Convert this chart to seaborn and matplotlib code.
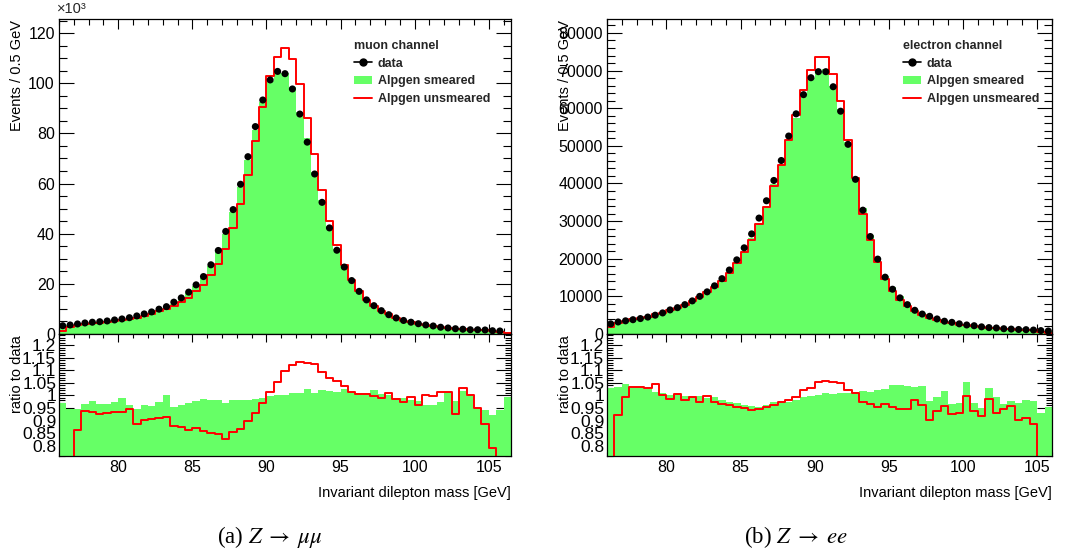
import numpy as np
import matplotlib
matplotlib.use('Agg')
import matplotlib.pyplot as plt
import seaborn as sns
from matplotlib.lines import Line2D
from matplotlib.patches import Patch
from matplotlib.ticker import MultipleLocator, FuncFormatter

sns.set_theme(style='ticks')
plt.rcParams['font.family'] = ['Liberation Sans', 'DejaVu Sans']
plt.rcParams['mathtext.fontset'] = 'stix'

# ---- muon channel (events in thousands per 0.5 GeV, 76 - 106.5 GeV) ----
mu_data = [3.3, 3.6, 4.0, 4.4, 4.7, 4.9, 5.2, 5.6, 6.0, 6.5,
           7.2, 8.0, 8.8, 9.9, 10.9, 12.7, 14.4, 16.7, 19.6, 22.9,
           27.6, 33.3, 40.9, 49.6, 59.7, 70.7, 82.7, 93.3, 101.3, 104.7,
           103.8, 97.7, 87.7, 76.5, 63.8, 52.5, 42.3, 33.4, 26.7, 21.3,
           17.0, 13.6, 11.3, 9.3, 7.7, 6.4, 5.4, 4.7, 4.1, 3.6,
           3.2, 2.7, 2.4, 2.1, 1.9, 1.7, 1.7, 1.6, 1.3, 1.2]
mu_smeared = [3.2, 3.4, 3.8, 4.25, 4.6, 4.7, 5.0, 5.45, 5.95, 6.25,
              6.8, 7.7, 8.4, 9.6, 10.9, 12.1, 13.9, 16.2, 19.1, 22.5,
              27.1, 32.7, 39.7, 48.6, 58.5, 69.5, 81.5, 92.5, 101.0, 104.7,
              104.1, 98.5, 88.4, 78.3, 64.5, 53.6, 43.0, 33.9, 27.3, 21.6,
              17.2, 13.7, 11.5, 9.35, 7.7, 6.35, 5.3, 4.6, 4.0, 3.45,
              3.1, 2.6, 2.45, 2.05, 1.95, 1.7, 1.6, 1.5, 1.2, 1.1, 0.9]
mu_unsmeared = [1.3, 2.7, 3.4, 4.1, 4.4, 4.5, 4.8, 5.2, 5.6, 6.1,
                6.4, 7.2, 8.0, 9.0, 10.0, 11.2, 12.6, 14.4, 17.1, 19.7,
                23.4, 28.1, 33.9, 42.3, 51.7, 63.5, 77.0, 90.6, 102.8, 110.4,
                113.9, 109.5, 99.5, 86.2, 71.6, 57.3, 45.2, 35.3, 27.7, 21.6,
                17.1, 13.7, 11.3, 9.2, 7.8, 6.3, 5.3, 4.7, 3.9, 3.6,
                3.2, 2.7, 2.4, 1.9, 2.0, 1.7, 1.6, 1.4, 1.0, 0.8, 0.5]
mu_ratio_smeared = [0.968, 0.946, 0.946, 0.966, 0.977, 0.966, 0.964, 0.974, 0.991, 0.962,
                    0.946, 0.960, 0.958, 0.974, 1.001, 0.952, 0.962, 0.971, 0.977, 0.984,
                    0.981, 0.983, 0.970, 0.980, 0.980, 0.983, 0.985, 0.991, 0.997, 1.000,
                    1.003, 1.008, 1.008, 1.024, 1.011, 1.021, 1.017, 1.015, 1.024, 1.015,
                    1.011, 1.008, 1.020, 1.005, 1.000, 0.991, 0.988, 0.983, 0.979, 0.962,
                    0.962, 0.975, 1.015, 0.976, 1.017, 1.003, 0.948, 0.942, 0.922, 0.942, 0.995]
mu_ratio_unsmeared = [0.40, 0.70, 0.862, 0.939, 0.935, 0.926, 0.928, 0.932, 0.934, 0.944,
                      0.885, 0.902, 0.906, 0.910, 0.915, 0.879, 0.875, 0.864, 0.870, 0.860,
                      0.849, 0.845, 0.828, 0.853, 0.866, 0.898, 0.931, 0.971, 1.015, 1.054,
                      1.097, 1.121, 1.134, 1.127, 1.123, 1.091, 1.068, 1.057, 1.038, 1.013,
                      1.005, 1.005, 0.997, 0.991, 1.008, 0.986, 0.975, 0.993, 0.962, 1.001,
                      0.997, 1.012, 1.013, 0.925, 1.030, 1.001, 0.948, 0.885, 0.789, 0.70, 0.40]

# ---- electron channel (events in thousands per 0.5 GeV, 76 - 106 GeV) ----
el_data = [2.7, 3.2, 3.5, 3.8, 4.1, 4.5, 5.0, 5.6, 6.4, 7.0,
           7.8, 8.8, 10.0, 11.2, 12.8, 14.7, 17.0, 19.7, 22.9, 26.6,
           30.8, 35.4, 40.8, 46.1, 52.6, 58.5, 63.6, 68.1, 69.7, 69.7,
           65.7, 59.2, 50.4, 41.1, 32.9, 25.9, 19.9, 15.1, 11.9, 9.6,
           7.8, 6.3, 5.3, 4.7, 4.0, 3.4, 3.1, 2.7, 2.4, 2.2,
           1.9, 1.7, 1.6, 1.4, 1.3, 1.2, 1.15, 1.05, 0.9, 0.8]
el_smeared = [2.8, 3.3, 3.65, 3.9, 4.2, 4.6, 5.05, 5.65, 6.4, 7.0,
              7.8, 8.75, 10.0, 11.1, 12.7, 14.4, 16.5, 19.1, 22.0, 25.5,
              29.4, 34.1, 39.8, 44.6, 51.3, 57.4, 63.3, 68.0, 69.9, 70.3,
              66.0, 59.7, 51.0, 41.7, 33.5, 26.3, 20.3, 15.5, 12.4, 10.0,
              8.1, 6.5, 5.5, 4.6, 4.0, 3.45, 3.0, 2.6, 2.5, 2.1,
              1.8, 1.75, 1.6, 1.35, 1.27, 1.17, 1.13, 1.03, 0.84, 0.76]
el_unsmeared = [1.8, 2.95, 3.5, 3.9, 4.25, 4.6, 5.2, 5.6, 6.3, 7.0,
                7.65, 8.75, 9.7, 11.2, 12.4, 14.2, 16.3, 18.8, 21.8, 25.0,
                29.2, 33.8, 39.2, 44.9, 51.6, 58.2, 64.9, 70.1, 73.5, 73.7,
                69.2, 62.0, 51.5, 41.4, 32.0, 25.0, 19.0, 14.6, 11.4, 9.1,
                7.4, 6.2, 5.1, 4.25, 3.75, 3.25, 2.85, 2.5, 2.4, 2.05,
                1.75, 1.65, 1.5, 1.3, 1.25, 1.1, 1.05, 0.93, 0.5, 0.3]
el_ratio_smeared = [1.028, 1.034, 1.044, 1.034, 1.032, 1.024, 1.013, 1.008, 1.001, 1.005,
                    0.997, 0.995, 0.997, 0.991, 0.995, 0.981, 0.972, 0.968, 0.962, 0.958,
                    0.955, 0.962, 0.975, 0.968, 0.975, 0.981, 0.995, 0.999, 1.003, 1.008,
                    1.004, 1.008, 1.011, 1.015, 1.019, 1.015, 1.021, 1.026, 1.041, 1.042,
                    1.038, 1.032, 1.037, 0.977, 0.995, 1.017, 0.966, 0.971, 1.052, 0.968,
                    0.950, 1.028, 0.995, 0.964, 0.979, 0.971, 0.981, 0.977, 0.928, 0.952]
el_ratio_unsmeared = [0.60, 0.922, 0.995, 1.032, 1.034, 1.028, 1.044, 1.000, 0.987, 1.004,
                      0.981, 0.995, 0.973, 0.997, 0.972, 0.966, 0.960, 0.955, 0.950, 0.940,
                      0.947, 0.955, 0.962, 0.975, 0.981, 0.995, 1.021, 1.030, 1.054, 1.058,
                      1.054, 1.048, 1.021, 1.008, 0.973, 0.966, 0.955, 0.966, 0.955, 0.947,
                      0.946, 0.981, 0.962, 0.902, 0.939, 0.956, 0.925, 0.928, 0.999, 0.938,
                      0.917, 0.984, 0.931, 0.944, 0.958, 0.901, 0.910, 0.886, 0.55, 0.40]

GREEN = '#66ff66'
W, H = 1069, 554


def fx(px):
    return px / W


def fy(py):
    return 1 - py / H


def style_axis(ax, ymajor, yminor):
    ax.xaxis.set_major_locator(MultipleLocator(5))
    ax.xaxis.set_minor_locator(MultipleLocator(1))
    ax.yaxis.set_major_locator(MultipleLocator(ymajor))
    ax.yaxis.set_minor_locator(MultipleLocator(yminor))
    ax.tick_params(which='both', direction='in', top=True, right=True,
                   width=0.8, color='black', labelcolor='black', pad=3)
    for s in ax.spines.values():
        s.set_color('black')
        s.set_linewidth(0.9)
    ax.set_xlabel('')
    ax.set_ylabel('')


def draw_panel(x0, x1, data, smeared, unsmeared, r_sm, r_unsm, ymax,
               ymajor, yminor, yfmt, channel, label_x, caption, cap_x):
    nb = len(smeared)
    edges = np.linspace(76, 76 + 0.5 * nb, nb + 1)
    centers = 0.5 * (edges[:-1] + edges[1:])
    bins = edges.tolist()

    ax = fig.add_axes([fx(x0), fy(334), fx(x1 - x0), (334 - 19) / H])
    sns.histplot(x=centers, weights=smeared, bins=bins, element='step', fill=True,
                 color=GREEN, alpha=1, linewidth=0, ax=ax)
    sns.histplot(x=centers, weights=unsmeared, bins=bins, element='step', fill=False,
                 color='red', linewidth=1.4, ax=ax)
    sns.scatterplot(x=centers[:len(data)], y=data, color='black', s=26,
                    edgecolor='none', ax=ax, zorder=5)
    ax.set_xlim(edges[0], edges[-1])
    ax.set_ylim(0, ymax)
    style_axis(ax, ymajor, yminor)
    ax.tick_params(axis='y', which='major', length=10.5, labelsize=11.5)
    ax.tick_params(axis='y', which='minor', length=5.5)
    ax.tick_params(axis='x', which='major', length=7, labelbottom=False)
    ax.tick_params(axis='x', which='minor', length=4)
    ax.yaxis.set_major_formatter(FuncFormatter(yfmt))

    handles = [Line2D([], [], color='black', marker='o', markersize=5, lw=1.2),
               Patch(facecolor=GREEN, edgecolor='none'),
               Line2D([], [], color='red', lw=1.4)]
    ax.legend(handles, ['data', 'Alpgen smeared', 'Alpgen unsmeared'],
              title=channel, alignment='left', frameon=False,
              loc='upper left', bbox_to_anchor=(fx(label_x), fy(40)),
              bbox_transform=fig.transFigure, borderpad=0, borderaxespad=0,
              handlelength=1.45, handletextpad=0.45, labelspacing=0.45,
              prop={'weight': 'bold', 'size': 9},
              title_fontproperties={'weight': 'bold', 'size': 9})

    fig.text(fx(x0 - 42), fy(20), 'Events / 0.5 GeV', rotation=90,
             ha='center', va='top', fontsize=10.5, color='black')

    rax = fig.add_axes([fx(x0), fy(456), fx(x1 - x0), (456 - 334) / H])
    sns.histplot(x=centers, weights=r_sm, bins=bins, element='step', fill=True,
                 color=GREEN, alpha=1, linewidth=0, ax=rax)
    sns.histplot(x=centers, weights=r_unsm, bins=bins, element='step', fill=False,
                 color='red', linewidth=1.4, ax=rax)
    rax.set_xlim(edges[0], edges[-1])
    rax.set_ylim(0.759, 1.244)
    style_axis(rax, 0.05, 0.01)
    rax.tick_params(axis='y', which='major', length=10.5, labelsize=12.5, pad=2)
    rax.tick_params(axis='y', which='minor', length=4.5)
    rax.tick_params(axis='x', which='major', length=6, labelsize=11.5)
    rax.tick_params(axis='x', which='minor', length=3)
    rax.yaxis.set_major_formatter(FuncFormatter(lambda v, p: f'{v:g}'))
    fig.text(fx(x0 - 42), fy(335), 'ratio to data', rotation=90,
             ha='center', va='top', fontsize=10.5, color='black')
    fig.text(fx(x1), fy(493), 'Invariant dilepton mass [GeV]', ha='right',
             va='center', fontsize=10.5, color='black')
    fig.text(fx(cap_x), fy(537), caption, ha='center', va='center',
             fontsize=16.5, family='Liberation Serif', color='black')
    return ax


fig = plt.figure(figsize=(W / 100, H / 100), dpi=100)

draw_panel(59, 511, mu_data, mu_smeared, mu_unsmeared,
           mu_ratio_smeared, mu_ratio_unsmeared, 125.6, 20, 5,
           lambda v, p: f'{v:.0f}', 'muon channel', 354,
           r'(a) $Z\;\rightarrow\;\mu\mu$', 270)
fig.text(fx(57), fy(9), '×10³', ha='left', va='center', fontsize=10.5)

draw_panel(607, 1052, el_data, el_smeared, el_unsmeared,
           el_ratio_smeared, el_ratio_unsmeared, 83.7, 10, 2,
           lambda v, p: f'{v * 1000:.0f}', 'electron channel', 903,
           r'(b) $Z\;\rightarrow\;ee$', 796)

fig.savefig('out.png', dpi=100)
